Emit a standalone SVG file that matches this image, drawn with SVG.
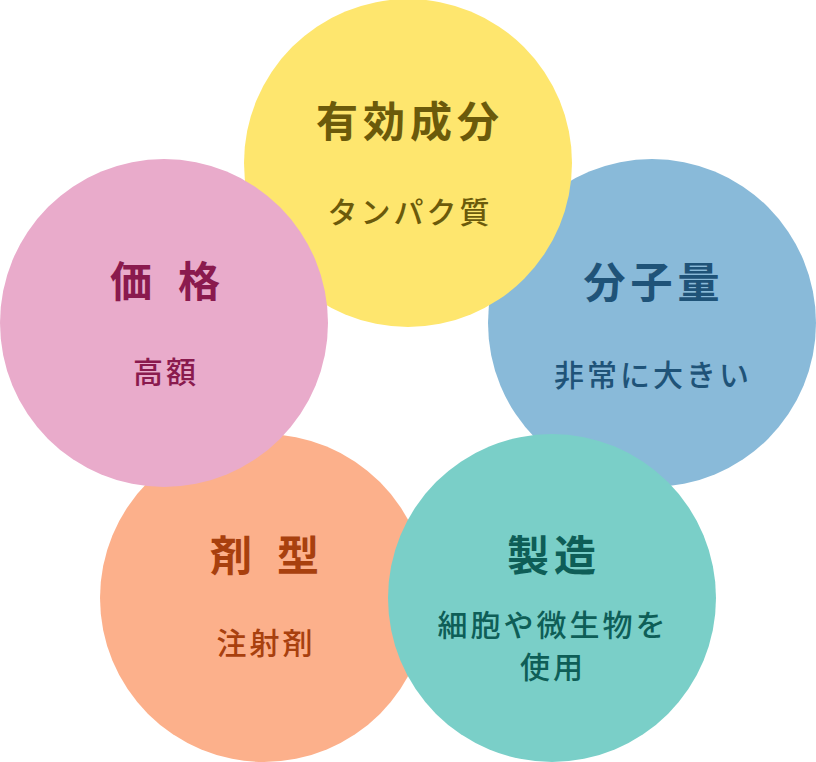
<svg xmlns="http://www.w3.org/2000/svg" width="816" height="762" viewBox="0 0 816 762">
<style>
text { font-family: "Noto Sans CJK JP", "Noto Sans", sans-serif; text-anchor: middle; dominant-baseline: central; }
.t { font-size: 42px; font-weight: 700; letter-spacing: 5px; }
.c { font-size: 42px; font-weight: 700; }
.s { font-size: 30px; font-weight: 500; letter-spacing: 3px; }
.blue circle { fill: #89BAD9; } .blue text { fill: #1F5378; }
.yellow circle { fill: #FEE66E; } .yellow text { fill: #6B5A0B; }
.orange circle { fill: #FCB08B; } .orange text { fill: #A8400E; }
.teal circle { fill: #7ACFC8; } .teal text { fill: #0E5E57; }
.pink circle { fill: #E9ABCB; } .pink text { fill: #8A1A4E; }
</style>
<g id="connectors"></g>
<g id="molecular-weight" class="blue">
<circle cx="652" cy="323" r="164"/>
<text class="t" x="654" y="279">分子量</text>
<text class="s" x="653" y="373">非常に大きい</text>
</g>
<g id="active-ingredient" class="yellow">
<circle cx="408" cy="163" r="164"/>
<text class="t" x="410" y="118">有効成分</text>
<text class="s" x="410" y="210">タンパク質</text>
</g>
<g id="dosage-form" class="orange">
<circle cx="264" cy="598" r="164"/>
<text class="c" x="231" y="552">剤</text>
<text class="c" x="298" y="552">型</text>
<text class="s" x="266" y="641">注射剤</text>
</g>
<g id="manufacturing" class="teal">
<circle cx="552" cy="598" r="164"/>
<text class="t" x="554" y="552">製造</text>
<text class="s" x="553" y="623">細胞や微生物を</text>
<text class="s" x="553" y="665">使用</text>
</g>
<g id="price" class="pink">
<circle cx="164" cy="323" r="164"/>
<text class="c" x="131" y="278">価</text>
<text class="c" x="199" y="278">格</text>
<text class="s" x="166" y="370">高額</text>
</g>
</svg>
